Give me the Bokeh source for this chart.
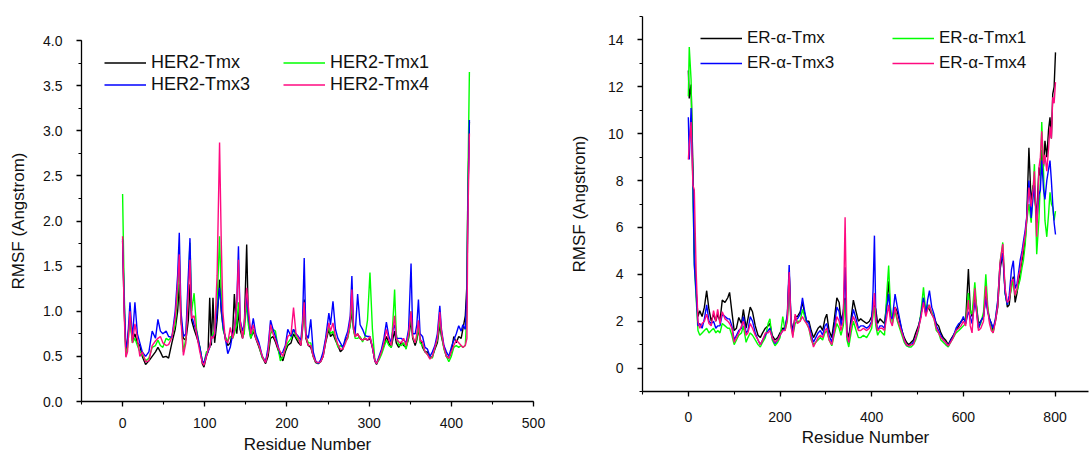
from bokeh.plotting import figure
from bokeh.models import Range1d, SingleIntervalTicker, NumeralTickFormatter, Legend, LegendItem
from bokeh.layouts import row, column
from bokeh.embed import file_html
from bokeh.resources import INLINE

# ---------------- HER2 panel data (residue, RMSF in Angstrom) ----------------
her2_res = [0, 2, 4, 6, 9, 12, 15, 18, 21, 24,
            28, 32, 36, 40, 43, 46, 49, 53, 56, 60,
            64, 67, 69, 71, 74, 77, 80, 82, 84, 87,
            90, 94, 97, 99, 102, 104, 106, 108, 110, 112,
            115, 118, 120, 122, 125, 128, 131, 134, 136, 139,
            141, 143, 146, 148, 151, 153, 156, 159, 162, 166,
            170, 174, 177, 180, 183, 186, 189, 192, 195, 198,
            201, 205, 208, 211, 214, 217, 219, 221, 223, 226,
            229, 232, 235, 238, 241, 244, 247, 251, 253, 256,
            259, 262, 265, 268, 271, 274, 277, 279, 281, 283,
            286, 289, 292, 295, 298, 301, 304, 307, 309, 312,
            315, 318, 321, 324, 327, 329, 331, 333, 336, 339,
            342, 345, 348, 351, 353, 356, 358, 360, 362, 365,
            368, 371, 374, 377, 380, 383, 386, 388, 391, 394,
            397, 400, 403, 406, 409, 412, 414, 417, 419, 420,
            422]
her2_tmx = [1.78, 1.0, 0.55, 0.69, 0.93, 0.67, 0.75, 0.65, 0.62, 0.5,
            0.41, 0.45, 0.5, 0.55, 0.6, 0.55, 0.49, 0.5, 0.48, 0.65,
            0.8, 1.0, 1.3, 0.9, 0.7, 0.68, 0.9, 1.3, 0.9, 0.8,
            0.72, 0.6, 0.42, 0.38, 0.5, 0.55, 1.15, 0.62, 1.15, 0.65,
            0.9, 1.35, 1.0, 0.85, 0.7, 0.62, 0.65, 0.78, 1.19, 0.75,
            1.0, 0.8, 0.7, 0.8, 1.74, 0.9, 0.7, 0.78, 0.7, 0.6,
            0.49, 0.42, 0.5, 0.7, 0.72, 0.66, 0.58, 0.5, 0.45, 0.55,
            0.62, 0.65, 0.75, 0.7, 0.65, 0.62, 0.8, 1.13, 0.7, 0.62,
            0.6, 0.5, 0.43, 0.42, 0.44, 0.5, 0.65, 0.8, 0.72, 0.75,
            0.68, 0.62, 0.55, 0.58, 0.68, 0.72, 0.85, 1.0, 0.8, 0.72,
            0.75, 0.7, 0.68, 0.7, 0.68, 0.7, 0.6, 0.45, 0.41, 0.48,
            0.55, 0.62, 0.72, 0.65, 0.6, 0.7, 0.78, 0.65, 0.6, 0.66,
            0.62, 0.6, 0.7, 0.9, 0.7, 0.62, 0.68, 0.8, 0.7, 0.6,
            0.55, 0.55, 0.48, 0.5, 0.58, 0.65, 0.85, 0.72, 0.6, 0.5,
            0.48, 0.55, 0.72, 0.65, 0.72, 0.7, 0.8, 0.95, 1.3, 2.2,
            3.1]
her2_tmx1 = [2.3, 1.2, 0.5, 0.6, 0.9, 0.65, 0.7, 0.62, 0.55, 0.52,
             0.45, 0.48, 0.6, 0.62, 0.68, 0.62, 0.6, 0.7, 0.68, 0.72,
             0.85, 1.2, 1.59, 0.95, 0.55, 0.7, 1.3, 1.76, 1.0, 1.2,
             0.8, 0.6, 0.45, 0.42, 0.55, 0.56, 0.6, 0.7, 0.75, 0.78,
             1.1, 1.83, 1.2, 0.8, 0.72, 0.67, 0.72, 0.7, 0.75, 0.85,
             1.1, 0.85, 0.72, 0.75, 1.1, 0.85, 0.7, 0.8, 0.72, 0.62,
             0.48, 0.45, 0.55, 0.75, 0.8, 0.78, 0.6, 0.45, 0.5, 0.58,
             0.65, 0.7, 0.8, 0.72, 0.68, 0.65, 0.85, 1.07, 0.72, 0.65,
             0.65, 0.5, 0.44, 0.42, 0.45, 0.52, 0.68, 0.83, 0.75, 0.78,
             0.7, 0.6, 0.62, 0.6, 0.66, 0.7, 0.85, 1.1, 0.8, 0.7,
             0.7, 0.72, 0.66, 0.72, 0.9, 1.43, 0.8, 0.45, 0.42, 0.46,
             0.52, 0.6, 0.68, 0.62, 0.6, 0.9, 1.24, 0.75, 0.62, 0.62,
             0.65, 0.58, 0.72, 1.0, 0.72, 0.65, 0.7, 0.85, 0.65, 0.62,
             0.55, 0.52, 0.5, 0.48, 0.6, 0.68, 0.9, 0.75, 0.58, 0.5,
             0.44, 0.5, 0.6, 0.62, 0.6, 0.62, 0.6, 0.62, 1.0, 2.3,
             3.65]
her2_tmx3 = [1.8, 1.1, 0.6, 0.65, 1.1, 0.7, 1.1, 0.75, 0.65, 0.55,
             0.5, 0.55, 0.78, 0.7, 0.91, 0.78, 0.75, 0.78, 0.72, 0.71,
             1.0, 1.4, 1.87, 1.0, 0.72, 0.75, 1.4, 1.81, 0.95, 0.85,
             0.78, 0.6, 0.45, 0.43, 0.52, 0.55, 0.6, 0.7, 0.72, 0.75,
             1.0, 1.26, 1.05, 0.85, 0.7, 0.53, 0.6, 0.75, 0.8, 1.1,
             1.72, 0.9, 0.78, 0.85, 1.2, 0.95, 0.75, 0.92, 0.75, 0.65,
             0.5, 0.44, 0.6, 0.9, 0.8, 0.72, 0.62, 0.52, 0.55, 0.62,
             0.8, 0.72, 0.8, 0.75, 0.72, 0.68, 0.9, 1.59, 0.75, 0.7,
             0.91, 0.55, 0.45, 0.42, 0.46, 0.55, 0.7, 0.98, 0.85, 1.11,
             0.8, 0.7, 0.65, 0.6, 0.7, 0.78, 0.95, 1.39, 0.85, 0.75,
             1.19, 0.85, 0.8, 0.73, 0.72, 0.72, 0.6, 0.45, 0.42, 0.5,
             0.58, 0.7, 0.88, 0.72, 0.65, 0.8, 0.85, 0.7, 0.7, 0.7,
             0.68, 0.65, 0.8, 1.53, 0.75, 0.75, 0.85, 1.13, 0.75, 0.72,
             0.6, 0.58, 0.5, 0.55, 0.62, 0.75, 1.06, 0.8, 0.62, 0.55,
             0.5, 0.6, 0.68, 0.75, 0.84, 0.78, 0.85, 0.8, 1.2, 2.1,
             3.12]
her2_tmx4 = [1.83, 0.95, 0.49, 0.55, 1.0, 0.65, 0.86, 0.7, 0.5, 0.55,
             0.44, 0.45, 0.62, 0.67, 0.7, 0.72, 0.65, 0.62, 0.63, 0.71,
             0.93, 1.3, 1.63, 0.9, 0.51, 0.65, 1.2, 1.57, 0.92, 0.95,
             0.75, 0.55, 0.43, 0.4, 0.5, 0.57, 0.6, 0.72, 0.7, 0.75,
             1.4, 2.87, 1.8, 1.0, 0.68, 0.65, 0.82, 0.7, 0.8, 1.1,
             1.57, 0.9, 0.7, 0.85, 1.26, 1.05, 0.75, 0.85, 0.7, 0.62,
             0.5, 0.43, 0.55, 0.85, 0.75, 0.68, 0.6, 0.55, 0.5, 0.6,
             0.72, 0.75, 1.04, 0.75, 0.7, 0.62, 0.85, 1.1, 0.72, 0.62,
             0.62, 0.5, 0.44, 0.43, 0.44, 0.5, 0.66, 0.87, 0.78, 0.87,
             0.72, 0.63, 0.58, 0.58, 0.64, 0.72, 0.9, 1.24, 0.82, 0.72,
             0.75, 0.7, 0.68, 0.7, 0.68, 0.72, 0.6, 0.45, 0.42, 0.48,
             0.55, 0.65, 0.8, 0.68, 0.62, 0.8, 0.95, 0.7, 0.66, 0.65,
             0.7, 0.62, 0.75, 1.0, 0.72, 0.65, 0.75, 0.9, 0.68, 0.66,
             0.55, 0.52, 0.47, 0.5, 0.6, 0.7, 0.99, 0.78, 0.6, 0.5,
             0.48, 0.55, 0.62, 0.68, 0.65, 0.62, 0.6, 0.62, 0.7, 1.9,
             2.97]

# ---------------- ER-alpha panel data ----------------
er_res = [0, 2, 6, 10, 13, 17, 21, 25, 30, 35,
          40, 45, 50, 55, 60, 64, 69, 74, 80, 86,
          90, 95, 100, 105, 110, 116, 120, 126, 130, 135,
          140, 146, 152, 157, 162, 168, 174, 178, 183, 189,
          195, 200, 206, 211, 216, 220, 224, 228, 233, 238,
          244, 249, 254, 258, 263, 268, 273, 278, 283, 288,
          293, 298, 302, 307, 313, 318, 324, 329, 333, 338,
          342, 346, 350, 355, 360, 366, 371, 376, 382, 389,
          395, 400, 403, 406, 409, 413, 418, 423, 428, 433,
          437, 441, 445, 451, 456, 461, 466, 471, 476, 481,
          486, 491, 496, 502, 507, 513, 518, 522, 526, 531,
          536, 541, 546, 551, 556, 561, 567, 572, 578, 584,
          590, 595, 600, 605, 611, 615, 619, 625, 629, 633,
          638, 644, 649, 653, 657, 661, 665, 670, 675, 680,
          686, 691, 696, 700, 705, 709, 713, 717, 720, 724,
          728, 731, 735, 738, 743, 748, 752, 755, 760, 765,
          768, 771, 775, 778, 782, 786, 789, 792, 795, 798,
          801]
er_tmx = [12.7, 11.5, 12.1, 8.5, 5.0, 3.3, 2.2, 2.45, 2.2, 2.6,
          3.3, 2.5, 2.0, 2.3, 2.0, 2.3, 2.0, 2.9, 2.8, 3.0,
          3.23, 2.4, 1.6, 1.7, 2.16, 1.9, 2.5, 1.7, 2.1, 2.6,
          2.4, 1.8, 1.4, 1.3, 1.5, 1.7, 1.8, 1.9, 1.4, 1.2,
          1.3, 1.5, 1.7, 1.7, 2.2, 4.1, 2.0, 1.6, 2.2, 2.2,
          2.4, 2.8, 2.3, 2.0, 2.0, 1.6, 1.3, 1.5, 1.7, 1.8,
          1.6, 2.1, 2.3, 1.6, 1.3, 2.0, 3.0, 2.8, 2.0, 2.4,
          3.0, 1.6, 1.3, 2.1, 2.9, 2.4, 2.0, 2.1, 2.0, 1.9,
          2.0, 2.2, 2.6, 2.7, 2.5, 1.9, 2.1, 2.0, 1.9, 2.8,
          3.7, 2.4, 2.1, 2.6, 2.4, 2.0, 1.6, 1.3, 1.1, 1.0,
          1.1, 1.2, 1.5, 1.8, 2.2, 3.0, 2.3, 2.6, 2.5, 2.3,
          2.2, 1.9, 1.8, 1.5, 1.3, 1.2, 1.0, 1.2, 1.4, 1.6,
          1.8, 2.0, 2.1, 2.0, 4.22, 2.5, 2.2, 3.1, 2.6, 1.9,
          2.0, 2.2, 3.2, 2.5, 2.1, 1.9, 1.6, 2.0, 2.6, 4.2,
          4.9, 3.3, 2.6, 2.7, 3.6, 3.9, 2.8, 3.2, 3.6, 4.1,
          4.6, 4.86, 5.5, 6.3, 9.4, 7.0, 7.8, 7.4, 6.5, 8.56,
          8.2, 9.3, 8.6, 9.7, 9.0, 10.2, 10.7, 9.8, 11.7, 12.0,
          13.47]
er_tmx1 = [11.6, 13.7, 12.3, 7.6, 4.5, 3.0, 1.6, 1.4, 1.5, 1.6,
           1.7, 1.5, 1.6, 1.7, 1.5, 1.6, 1.5, 1.9, 1.8, 1.7,
           1.7, 1.4, 1.0, 1.2, 1.4, 1.5, 1.8, 1.1, 1.3, 1.5,
           1.4, 1.2, 1.0, 0.9, 1.1, 1.3, 1.9, 2.1, 1.2, 0.95,
           1.1, 1.3, 2.2, 1.6, 2.0, 3.7, 1.8, 1.4, 1.9, 2.0,
           2.0, 2.5, 2.2, 1.9, 1.7, 1.2, 1.0, 1.1, 1.2, 1.3,
           1.2, 1.5, 1.6, 1.2, 0.95, 1.4, 1.9, 1.7, 1.4, 1.8,
           2.9, 1.2, 0.9, 1.5, 2.0, 1.6, 1.3, 1.3, 1.4, 1.3,
           1.5, 1.7, 2.3, 2.6, 1.8, 1.4, 1.6, 1.5, 1.4, 3.2,
           4.37, 2.6, 1.9, 2.4, 2.0, 1.7, 1.4, 1.1, 0.95, 0.9,
           0.9, 1.0, 1.2, 1.6, 2.3, 3.44, 2.4, 2.7, 2.6, 2.4,
           2.1, 1.6, 1.5, 1.2, 1.1, 1.0, 0.9, 1.1, 1.3, 1.5,
           1.6, 1.7, 1.8, 1.9, 3.2, 2.4, 2.3, 3.66, 2.6, 1.7,
           1.9, 2.4, 4.0, 2.7, 2.0, 1.7, 1.5, 2.1, 2.8, 4.5,
           5.36, 3.2, 2.7, 3.0, 3.4, 3.8, 3.1, 3.3, 3.5, 3.8,
           4.3, 4.6, 5.3, 6.2, 7.0, 6.2, 7.5, 8.7, 4.86, 6.4,
           8.0, 10.5, 8.3, 6.3, 5.6, 6.6, 7.5, 7.0, 6.86, 6.3,
           6.7]
er_tmx3 = [10.7, 8.9, 11.1, 8.0, 4.4, 3.2, 1.8, 1.9, 1.7, 2.1,
           2.7, 2.0, 1.9, 2.0, 1.7, 1.8, 1.8, 2.3, 2.2, 2.1,
           2.1, 1.8, 1.2, 1.4, 1.6, 1.7, 2.2, 1.5, 1.6, 2.2,
           2.0, 1.5, 1.2, 1.0, 1.2, 1.4, 1.6, 1.7, 1.3, 1.05,
           1.2, 1.4, 1.6, 1.7, 2.3, 4.4, 2.0, 1.5, 2.1, 2.1,
           2.3, 3.0, 2.4, 2.0, 1.9, 1.4, 1.1, 1.3, 1.5, 1.6,
           1.4, 1.8, 1.9, 1.4, 1.1, 1.7, 2.6, 2.4, 1.8, 2.3,
           4.3, 1.4, 1.1, 1.9, 2.5, 2.1, 1.7, 1.8, 1.8, 1.7,
           1.8, 2.0, 3.3, 5.65, 2.2, 1.6, 1.8, 1.8, 1.7, 2.6,
           3.16, 2.2, 2.1, 3.16, 2.6, 2.1, 1.6, 1.2, 1.0, 0.95,
           1.0, 1.1, 1.3, 1.7, 2.2, 3.0, 2.3, 2.9, 3.3, 2.6,
           2.3, 1.8, 1.6, 1.4, 1.2, 1.1, 0.95, 1.15, 1.35, 1.7,
           1.9, 1.95, 2.2, 1.9, 2.4, 2.2, 1.9, 2.8, 2.4, 1.7,
           2.0, 2.2, 3.0, 2.4, 2.1, 1.9, 1.7, 2.1, 2.9, 4.4,
           4.9, 3.2, 2.7, 3.1, 4.2, 4.58, 3.4, 3.6, 4.0, 4.6,
           5.0, 5.4, 5.9, 6.4, 8.0, 6.4, 7.3, 7.8, 6.2, 7.4,
           7.6, 8.85, 7.6, 7.2, 8.0, 8.5, 8.85, 8.0, 7.0, 6.2,
           5.7]
er_tmx4 = [8.9, 9.5, 10.5, 7.8, 7.6, 4.15, 2.0, 1.7, 1.9, 2.0,
           2.3, 1.9, 1.8, 2.45, 2.0, 2.5, 1.9, 2.4, 2.1, 2.0,
           1.9, 1.7, 1.1, 1.3, 1.5, 1.8, 2.0, 1.4, 1.5, 1.9,
           1.7, 1.4, 1.2, 1.0, 1.2, 1.5, 1.5, 1.6, 1.3, 1.1,
           1.2, 1.4, 1.6, 1.6, 2.1, 4.1, 1.8, 1.3, 2.3, 1.9,
           2.0, 2.2, 2.0, 1.9, 1.7, 1.3, 0.9, 1.1, 1.3, 1.4,
           1.3, 1.6, 1.7, 1.2, 1.0, 1.5, 2.2, 2.0, 1.6, 2.0,
           6.43, 1.4, 1.1, 1.8, 2.2, 1.9, 1.6, 1.6, 1.7, 1.6,
           1.7, 1.9, 2.4, 3.2, 2.0, 1.6, 1.7, 1.7, 1.6, 2.2,
           2.7, 2.0, 1.8, 2.6, 2.1, 1.8, 1.5, 1.2, 1.0, 0.95,
           1.0, 1.0, 1.3, 1.7, 2.1, 2.8, 2.2, 2.5, 2.7, 2.3,
           2.1, 1.7, 1.5, 1.3, 1.2, 1.1, 0.95, 1.1, 1.3, 1.6,
           1.7, 1.8, 2.0, 1.8, 2.9, 1.8, 1.5, 3.4, 2.3, 1.6,
           1.7, 2.0, 3.5, 2.5, 1.9, 1.6, 1.5, 2.0, 2.7, 4.5,
           5.29, 3.4, 2.8, 2.9, 3.7, 3.8, 3.1, 3.4, 3.9, 4.2,
           4.8, 5.2, 5.7, 6.3, 7.7, 6.9, 7.6, 8.4, 5.6, 8.56,
           9.0, 10.1, 8.7, 9.1, 8.4, 9.4, 10.3, 9.8, 11.55, 11.3,
           12.2]

her2_labels = ["HER2-Tmx", "HER2-Tmx1", "HER2-Tmx3", "HER2-Tmx4"]
er_labels = ["ER-\u03b1-Tmx", "ER-\u03b1-Tmx1", "ER-\u03b1-Tmx3", "ER-\u03b1-Tmx4"]
colors = ["#000000", "#00ff00", "#0000ff", "#ff0a80"]

for s in (her2_tmx, her2_tmx1, her2_tmx3, her2_tmx4):
    assert len(s) == len(her2_res), len(s)
for s in (er_tmx, er_tmx1, er_tmx3, er_tmx4):
    assert len(s) == len(er_res), len(s)

FONT = "Liberation Sans"
H = 456


def style(p, xint, yint, yfmt=None):
    p.outline_line_color = None
    p.xgrid.visible = False
    p.ygrid.visible = False
    p.background_fill_color = "white"
    p.border_fill_color = "white"
    p.xaxis.ticker = SingleIntervalTicker(interval=xint, num_minor_ticks=2)
    p.yaxis.ticker = SingleIntervalTicker(interval=yint, num_minor_ticks=2)
    if yfmt:
        p.yaxis.formatter = NumeralTickFormatter(format=yfmt)
    for ax in (p.xaxis[0], p.yaxis[0]):
        ax.axis_line_color = "black"
        ax.axis_line_width = 1.3
        ax.major_tick_line_color = "black"
        ax.major_tick_line_width = 1.3
        ax.minor_tick_line_color = "black"
        ax.minor_tick_line_width = 1.1
        ax.major_tick_in = 0
        ax.major_tick_out = 5
        ax.minor_tick_in = 0
        ax.minor_tick_out = 3
        ax.major_label_text_font = FONT
        ax.major_label_text_font_size = "14px"
        ax.major_label_text_color = "#111111"
        ax.axis_label_text_font = FONT
        ax.axis_label_text_font_size = "17px"
        ax.axis_label_text_font_style = "normal"
        ax.axis_label_text_color = "#111111"
    p.yaxis.major_label_standoff = 14
    p.xaxis.axis_label = "Residue Number"
    p.yaxis.axis_label = "RMSF (Angstrom)"


def add_legends(p, renderers, labels, x1, x2, ybot, spacing, fsize, lh):
    for idx, xoff in ((0, x1), (1, x2)):
        items = [LegendItem(label=labels[idx], renderers=[renderers[idx]]),
                 LegendItem(label=labels[idx + 2], renderers=[renderers[idx + 2]])]
        leg = Legend(items=items, location=(xoff, ybot), orientation="vertical",
                     padding=0, margin=0, spacing=spacing,
                     glyph_width=42, glyph_height=lh, label_height=lh,
                     label_standoff=5, label_text_font=FONT,
                     label_text_font_size=fsize, label_text_color="#111111",
                     border_line_color=None, background_fill_alpha=0)
        p.add_layout(leg)


# ---------------- left panel ----------------
p1 = figure(width=562, height=H, x_range=Range1d(-50, 500), y_range=Range1d(0, 4),
            output_backend="svg", toolbar_location=None,
            min_border_left=81, min_border_right=29, min_border_top=40, min_border_bottom=54)
style(p1, 100, 0.5, "0.0")
p1.yaxis.axis_label_standoff = 12
p1.xaxis.major_label_standoff = 11
p1.xaxis.axis_label_standoff = 4
r1 = []
for ys, c in zip((her2_tmx, her2_tmx1, her2_tmx3, her2_tmx4), colors):
    r1.append(p1.line(her2_res, ys, line_color=c, line_width=1.4))
add_legends(p1, r1, her2_labels, 23, 202, 306, 1, "18px", 21)

# ---------------- right panel ----------------
p2 = figure(width=528, height=H, x_range=Range1d(-100, 873), y_range=Range1d(-1, 15),
            output_backend="svg", toolbar_location=None,
            min_border_left=80, min_border_right=2, min_border_top=16, min_border_bottom=65)
style(p2, 200, 2)
p2.yaxis.axis_label_standoff = 16
p2.xaxis.major_label_standoff = 15
p2.xaxis.axis_label_standoff = 3
r2 = []
for ys, c in zip((er_tmx, er_tmx1, er_tmx3, er_tmx4), colors):
    r2.append(p2.line(er_res, ys, line_color=c, line_width=1.4))
add_legends(p2, r2, er_labels, 58, 250, 318, 5, "17px", 20)

layout = row(column(p1), column(p2))
open("out.html", "w").write(file_html(layout, INLINE))
